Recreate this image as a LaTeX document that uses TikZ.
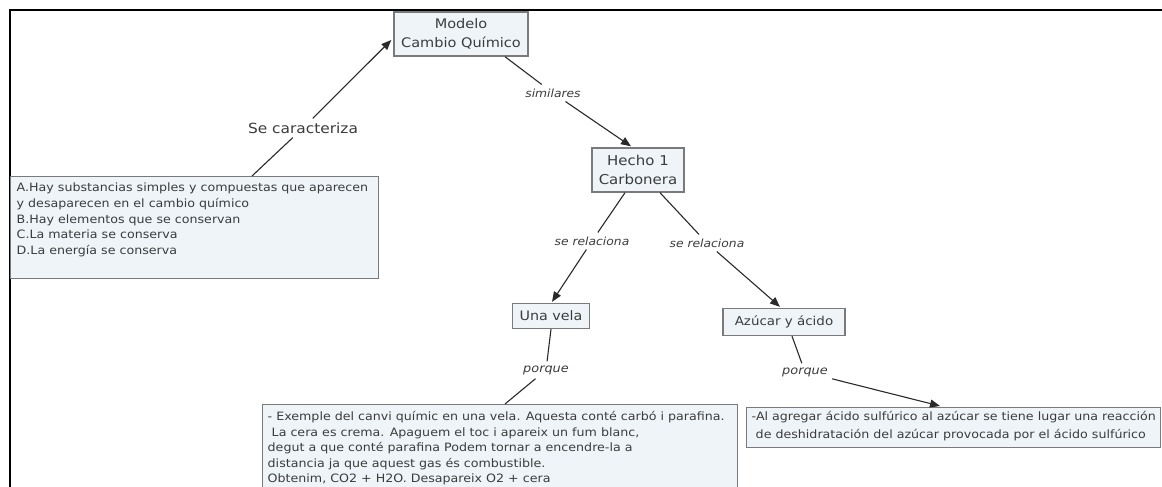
\documentclass[tikz,border=0pt]{standalone}
\usepackage{fontspec}
\setmainfont{DejaVu Sans}[FakeStretch=1.1]
\usetikzlibrary{arrows.meta,calc}
\definecolor{boxfill}{HTML}{EEF4F8}
\definecolor{boxline}{HTML}{7A7A7A}
\definecolor{txt}{HTML}{3C3C3C}
\definecolor{linec}{HTML}{2A2A2A}
\newcommand{\tbox}[3]{\parbox[c][#2][t]{#1}{\raggedright #3}}
\tikzset{
  concept/.style={draw=boxline, fill=boxfill, line width=1.4pt, text=txt},
  lbl/.style={text=txt, inner sep=4pt, font=\itshape\fontsize{11.2}{13}\selectfont},
  conn/.style={draw=linec, line width=1.1pt},
  arr/.style={conn, -{Triangle[length=10pt,width=8pt]}}
}
\begin{document}
\begin{tikzpicture}[x=1pt,y=-1pt]
\useasboundingbox (0,0) rectangle (1162,487);
\fill[white] (0,0) rectangle (1162,487);
\draw[black, line width=2pt] (1162,10) -- (10,10) -- (10,487);

\node[concept, minimum width=134pt, minimum height=44pt, align=center, inner sep=1pt,
      font=\fontsize{13.2}{18.5}\selectfont] (modelo) at (461,34) {Modelo\\Cambio Químico};

\node[concept, anchor=north west, inner xsep=6pt, inner ysep=3pt,
      font=\fontsize{11.5}{15.8}\selectfont] (carac) at (10,176)
  {\tbox{356pt}{96pt}{\vspace*{3pt}A.Hay substancias simples y compuestas que aparecen\\
  y desaparecen en el cambio químico\\
  B.Hay elementos que se conservan\\
  C.La materia se conserva\\
  D.La energía se conserva}};

\node[concept, minimum width=92pt, minimum height=44pt, align=center, inner sep=1pt,
      font=\fontsize{13.6}{19}\selectfont] (hecho) at (638,170) {Hecho 1\\Carbonera};

\node[concept, minimum width=77pt, minimum height=25pt, inner sep=1pt,
      font=\fontsize{13}{15}\selectfont] (vela) at (551,316) {Una vela};

\node[concept, minimum width=122pt, minimum height=27pt, inner sep=1pt,
      font=\fontsize{12.2}{15}\selectfont] (azucar) at (784,322) {Azúcar y ácido};

\node[concept, anchor=north west, inner xsep=5pt, inner ysep=3pt,
      font=\fontsize{11.5}{15.5}\selectfont] (ejem) at (262,404)
  {\tbox{465pt}{83pt}{\vspace*{4pt}- Exemple del canvi químic en una vela. Aquesta conté carbó i parafina.\\
  \ La cera es crema. Apaguem el toc i apareix un fum blanc,\\
  degut a que conté parafina Podem tornar a encendre-la a\\
  distancia ja que aquest gas és combustible.\\
  Obtenim, CO2 + H2O. Desapareix O2 + cera}};

\node[concept, anchor=north west, inner xsep=5pt, inner ysep=2pt,
      font=\fontsize{11.5}{17.5}\selectfont] (acido) at (746,407)
  {\tbox{404pt}{36pt}{\vspace*{2pt}-Al agregar ácido sulfúrico al azúcar se tiene lugar una reacción\\
  \ de deshidratación del azúcar provocada por el ácido sulfúrico}};

\node[lbl, font=\fontsize{14}{16}\selectfont] (secar) at (303,128) {Se caracteriza};
\node[lbl] (simil) at (553,93) {similares};
\node[lbl] (rel1) at (592,241) {se relaciona};
\node[lbl] (rel2) at (707,243) {se relaciona};
\node[lbl, font=\itshape\fontsize{11.7}{13}\selectfont] (porq1) at (546,370) {porque};
\node[lbl, font=\itshape\fontsize{11.7}{13}\selectfont] (porq2) at (805,372) {porque};

\draw[conn] ($(carac.north west)+(242,0)$) -- (secar);
\draw[arr] (secar) -- ($(modelo.west)+(-2,6)$);
\draw[conn] ($(modelo.south)+(44,0)$) -- (simil);
\draw[arr] (simil) -- ($(hecho.north)+(-7,-1)$);
\draw[conn] ($(hecho.south)+(-13,0)$) -- (rel1);
\draw[arr] (rel1) -- ($(vela.north)+(1,-1)$);
\draw[conn] ($(hecho.south)+(22,0)$) -- (rel2);
\draw[arr] (rel2) -- ($(azucar.north)+(-4,-1)$);
\draw[conn] (vela.south) -- (porq1);
\draw[conn] (porq1) -- ($(ejem.north west)+(243,0)$);
\draw[conn] ($(azucar.south)+(8,0)$) -- (porq2);
\draw[arr] (porq2) -- ($(acido.north west)+(194,-1)$);
\end{tikzpicture}
\end{document}
